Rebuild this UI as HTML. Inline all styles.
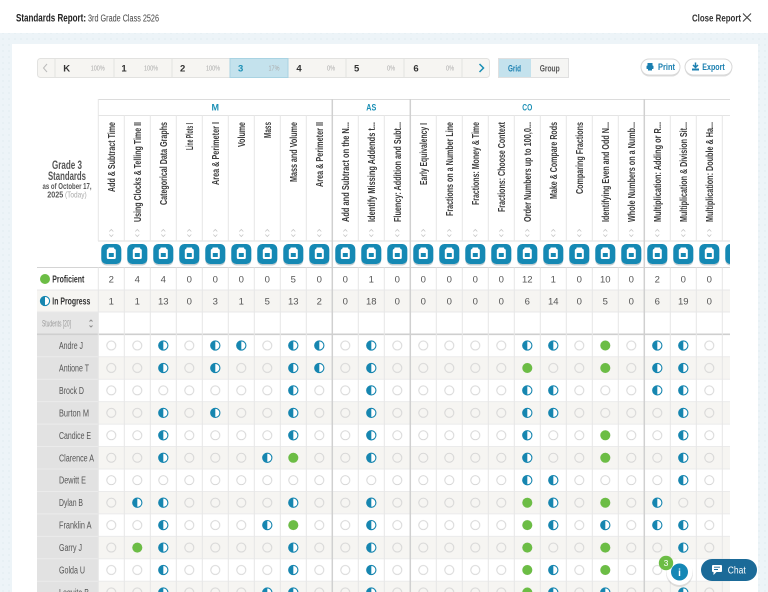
<!DOCTYPE html>
<html><head><meta charset="utf-8"><style>html,body{margin:0;padding:0;background:#fff}svg{display:block}</style></head>
<body>
<svg width="768" height="592" viewBox="0 0 768 592" xmlns="http://www.w3.org/2000/svg" font-family="'Liberation Sans', sans-serif">
<defs>
<pattern id="dots" width="6" height="6" patternUnits="userSpaceOnUse"><rect width="6" height="6" fill="#edf4f8"/><circle cx="3" cy="3" r="0.6" fill="#d9e6ed"/></pattern>
<pattern id="pc" x="98.3" y="334.3" width="26" height="22.45" patternUnits="userSpaceOnUse"><circle cx="13" cy="11.2" r="4.5" fill="none" stroke="#d2d2d2" stroke-width="0.9"/></pattern>
<g id="h"><circle r="4.6" fill="#fff" stroke="#1686b0" stroke-width="1.1"/><path d="M0,-4.6A4.6,4.6 0 0 0 0,4.6Z" fill="#1686b0"/></g>
<g id="g"><circle r="5" fill="#6cbd45"/></g>
<g id="sa"><path d="M-2,2.5L0,0.5L2,2.5M-2,5.5L0,7.5L2,5.5" fill="none" stroke="#c6c6c6" stroke-width="0.8"/></g>
<g id="ic"><rect x="-10" y="-8.5" width="20" height="20" rx="5" fill="#c5d0d4"/><rect x="-10" y="-10" width="20" height="20" rx="5" fill="#1589b4"/><rect x="-4.5" y="-5" width="9" height="10" rx="1.5" fill="#fff"/><rect x="-2.5" y="-1" width="5" height="4" fill="#1589b4"/><rect x="-3" y="-6.5" width="6" height="2" rx="0.8" fill="#fff"/></g>
<clipPath id="tc"><rect x="0" y="0" width="730" height="592"/></clipPath>
</defs>

<!-- page background -->
<rect width="768" height="592" fill="#fff"/>
<rect x="0" y="33" width="768" height="559" fill="url(#dots)"/>
<rect x="12" y="44" width="746" height="548" fill="#fff"/>

<!-- top bar -->
<text x="16" y="21.5" font-size="11" font-weight="bold" fill="#222" textLength="70" lengthAdjust="spacingAndGlyphs">Standards Report:</text>
<text x="88" y="21.5" font-size="10" fill="#444" textLength="71" lengthAdjust="spacingAndGlyphs">3rd Grade Class 2526</text>
<text x="692" y="21.5" font-size="10.5" font-weight="bold" fill="#333" textLength="49" lengthAdjust="spacingAndGlyphs">Close Report</text>
<path d="M743,13.5L751,21.5M751,13.5L743,21.5" stroke="#444" stroke-width="1.1"/>

<!-- grade tabs -->
<rect x="37.5" y="58.5" width="452" height="19" rx="3" fill="#f6f5f2" stroke="#e2e2e0"/>
<rect x="230" y="58.5" width="58" height="19" fill="#c4e2ed" stroke="#a9d3e2"/>
<g stroke="#e2e2e0"><line x1="55" y1="59" x2="55" y2="77"/><line x1="114" y1="59" x2="114" y2="77"/><line x1="172" y1="59" x2="172" y2="77"/><line x1="346" y1="59" x2="346" y2="77"/><line x1="404" y1="59" x2="404" y2="77"/><line x1="462" y1="59" x2="462" y2="77"/></g>
<path d="M47,64L43.5,68L47,72" fill="none" stroke="#bbb" stroke-width="1"/>
<path d="M479.5,64L483.5,68L479.5,72" fill="none" stroke="#1a8fb5" stroke-width="1.5"/>
<g font-size="9.5" font-weight="bold" fill="#333" text-anchor="middle">
<text x="66.7" y="71.5">K</text><text x="124" y="71.5">1</text><text x="182.7" y="71.5">2</text><text x="240.7" y="71.5" fill="#1a8fb5">3</text><text x="299" y="71.5">4</text><text x="356.7" y="71.5">5</text><text x="416" y="71.5">6</text>
</g>
<g font-size="7" fill="#aaa" text-anchor="middle">
<text x="97.7" y="70.5" textLength="14" lengthAdjust="spacingAndGlyphs">100%</text>
<text x="151" y="70.5" textLength="14" lengthAdjust="spacingAndGlyphs">100%</text>
<text x="213" y="70.5" textLength="14" lengthAdjust="spacingAndGlyphs">100%</text>
<text x="274" y="70.5" textLength="11" lengthAdjust="spacingAndGlyphs">17%</text>
<text x="331" y="70.5" textLength="8" lengthAdjust="spacingAndGlyphs">0%</text>
<text x="391" y="70.5" textLength="8" lengthAdjust="spacingAndGlyphs">0%</text>
<text x="450" y="70.5" textLength="8" lengthAdjust="spacingAndGlyphs">0%</text>
</g>

<!-- grid/group toggle -->
<rect x="498.5" y="58.5" width="70" height="19" fill="#f5f5f3" stroke="#e0e0e0"/>
<rect x="499" y="59" width="32" height="18" fill="#c4e2ed"/>
<text x="514.5" y="71.5" font-size="9.5" font-weight="bold" fill="#1a7fb0" text-anchor="middle" textLength="13" lengthAdjust="spacingAndGlyphs">Grid</text>
<text x="549.7" y="71.5" font-size="9.5" font-weight="bold" fill="#555" text-anchor="middle" textLength="20" lengthAdjust="spacingAndGlyphs">Group</text>

<!-- print / export -->
<rect x="641" y="60.5" width="39" height="16" rx="8" fill="#ddd"/>
<rect x="641" y="59" width="39" height="16" rx="8" fill="#fff" stroke="#d8d8d8"/>
<rect x="647.5" y="63" width="5" height="2.5" fill="#1a7fb0"/><rect x="646.5" y="65.5" width="7" height="3.5" rx="0.8" fill="#1a7fb0"/><rect x="648" y="68.5" width="4" height="2" fill="#1a7fb0"/>
<text x="658" y="70" font-size="9" font-weight="bold" fill="#1a7fb0" textLength="17" lengthAdjust="spacingAndGlyphs">Print</text>
<rect x="685" y="60.5" width="47" height="16" rx="8" fill="#ddd"/>
<rect x="685" y="59" width="47" height="16" rx="8" fill="#fff" stroke="#d8d8d8"/>
<path d="M695.5,62.5V67M693,65L695.5,67.5L698,65" fill="none" stroke="#1a7fb0" stroke-width="1.5"/><rect x="692" y="68.5" width="7" height="2" fill="#1a7fb0"/>
<text x="702.3" y="70" font-size="9" font-weight="bold" fill="#1a7fb0" textLength="22.4" lengthAdjust="spacingAndGlyphs">Export</text>

<!-- left header block -->
<g font-weight="bold" fill="#555" text-anchor="middle">
<text x="67" y="169" font-size="11.5" textLength="30" lengthAdjust="spacingAndGlyphs">Grade 3</text>
<text x="67" y="180" font-size="11.5" textLength="38" lengthAdjust="spacingAndGlyphs">Standards</text>
<text x="67" y="189" font-size="8.5" textLength="49" lengthAdjust="spacingAndGlyphs">as of October 17,</text>
</g>
<text x="47.3" y="197.5" font-size="8.5" font-weight="bold" fill="#555" textLength="16" lengthAdjust="spacingAndGlyphs">2025</text>
<text x="65" y="197.5" font-size="8.5" fill="#aaa" textLength="21.7" lengthAdjust="spacingAndGlyphs">(Today)</text>

<g clip-path="url(#tc)">
<!-- row fills -->
<rect x="37" y="290" width="693" height="22" fill="#f6f5f2"/>
<rect x="37" y="312" width="61" height="22.3" fill="#e6e6e6"/>
<g fill="#f6f5f2">
<rect x="98" y="356.75" width="632" height="22.45"/><rect x="98" y="401.65" width="632" height="22.45"/><rect x="98" y="446.55" width="632" height="22.45"/><rect x="98" y="491.45" width="632" height="22.45"/><rect x="98" y="536.35" width="632" height="22.45"/><rect x="98" y="581.25" width="632" height="22.45"/>
</g>
<rect x="37" y="334.3" width="61" height="258" fill="#e2e2e2"/>

<!-- horizontal lines -->
<g stroke="#dcdcdc" stroke-width="1">
<line x1="98" y1="99.5" x2="730" y2="99.5"/>
<line x1="98" y1="115.5" x2="730" y2="115.5" stroke="#e4e4e4"/>
<line x1="98" y1="241" x2="730" y2="241"/>
<line x1="37" y1="267.5" x2="730" y2="267.5" stroke="#d4d4d4"/>
<line x1="37" y1="290" x2="730" y2="290" stroke="#e8e8e8"/>
<line x1="37" y1="312" x2="730" y2="312" stroke="#e8e8e8"/>
<line x1="37" y1="334.3" x2="730" y2="334.3" stroke="#cfcfcf" stroke-width="1.6"/>
</g>
<g stroke="#ebebeb">
<line x1="37" y1="356.75" x2="730" y2="356.75"/><line x1="37" y1="379.2" x2="730" y2="379.2"/><line x1="37" y1="401.65" x2="730" y2="401.65"/><line x1="37" y1="424.1" x2="730" y2="424.1"/><line x1="37" y1="446.55" x2="730" y2="446.55"/><line x1="37" y1="469" x2="730" y2="469"/><line x1="37" y1="491.45" x2="730" y2="491.45"/><line x1="37" y1="513.9" x2="730" y2="513.9"/><line x1="37" y1="536.35" x2="730" y2="536.35"/><line x1="37" y1="558.8" x2="730" y2="558.8"/><line x1="37" y1="581.25" x2="730" y2="581.25"/>
</g>

<!-- vertical lines -->
<g stroke="#e6e6e6">
<line x1="98.3" y1="99" x2="98.3" y2="241"/><line x1="98.3" y1="267.5" x2="98.3" y2="592"/>
<line x1="124.3" y1="115" x2="124.3" y2="241"/><line x1="150.3" y1="115" x2="150.3" y2="241"/><line x1="176.3" y1="115" x2="176.3" y2="241"/><line x1="202.3" y1="115" x2="202.3" y2="241"/><line x1="228.3" y1="115" x2="228.3" y2="241"/><line x1="254.3" y1="115" x2="254.3" y2="241"/><line x1="280.3" y1="115" x2="280.3" y2="241"/><line x1="306.3" y1="115" x2="306.3" y2="241"/>
<line x1="358.3" y1="115" x2="358.3" y2="241"/><line x1="384.3" y1="115" x2="384.3" y2="241"/>
<line x1="436.3" y1="115" x2="436.3" y2="241"/><line x1="462.3" y1="115" x2="462.3" y2="241"/><line x1="488.3" y1="115" x2="488.3" y2="241"/><line x1="514.3" y1="115" x2="514.3" y2="241"/><line x1="540.3" y1="115" x2="540.3" y2="241"/><line x1="566.3" y1="115" x2="566.3" y2="241"/><line x1="592.3" y1="115" x2="592.3" y2="241"/><line x1="618.3" y1="115" x2="618.3" y2="241"/>
<line x1="670.3" y1="115" x2="670.3" y2="241"/><line x1="696.3" y1="115" x2="696.3" y2="241"/><line x1="722.3" y1="115" x2="722.3" y2="241"/>
<line x1="124.3" y1="267.5" x2="124.3" y2="592"/><line x1="150.3" y1="267.5" x2="150.3" y2="592"/><line x1="176.3" y1="267.5" x2="176.3" y2="592"/><line x1="202.3" y1="267.5" x2="202.3" y2="592"/><line x1="228.3" y1="267.5" x2="228.3" y2="592"/><line x1="254.3" y1="267.5" x2="254.3" y2="592"/><line x1="280.3" y1="267.5" x2="280.3" y2="592"/><line x1="306.3" y1="267.5" x2="306.3" y2="592"/>
<line x1="358.3" y1="267.5" x2="358.3" y2="592"/><line x1="384.3" y1="267.5" x2="384.3" y2="592"/>
<line x1="436.3" y1="267.5" x2="436.3" y2="592"/><line x1="462.3" y1="267.5" x2="462.3" y2="592"/><line x1="488.3" y1="267.5" x2="488.3" y2="592"/><line x1="514.3" y1="267.5" x2="514.3" y2="592"/><line x1="540.3" y1="267.5" x2="540.3" y2="592"/><line x1="566.3" y1="267.5" x2="566.3" y2="592"/><line x1="592.3" y1="267.5" x2="592.3" y2="592"/><line x1="618.3" y1="267.5" x2="618.3" y2="592"/>
<line x1="670.3" y1="267.5" x2="670.3" y2="592"/><line x1="696.3" y1="267.5" x2="696.3" y2="592"/><line x1="722.3" y1="267.5" x2="722.3" y2="592"/>
</g>
<g stroke="#d0d0d0" stroke-width="1.5">
<line x1="332.3" y1="99" x2="332.3" y2="592"/><line x1="410.3" y1="99" x2="410.3" y2="592"/><line x1="644.3" y1="99" x2="644.3" y2="592"/>
</g>

<!-- group labels -->
<g font-size="9" font-weight="bold" fill="#1a8fb5" text-anchor="middle">
<text x="215.3" y="110.5">M</text><text x="371.3" y="110.5" textLength="10" lengthAdjust="spacingAndGlyphs">AS</text><text x="527.3" y="110.5" textLength="10" lengthAdjust="spacingAndGlyphs">CO</text>
</g>

<!-- column headers -->
<g font-size="10" font-weight="bold" fill="#3a3a3a" text-anchor="end" lengthAdjust="spacingAndGlyphs">
<text transform="translate(114.8,122) rotate(-90)" textLength="70" lengthAdjust="spacingAndGlyphs">Add &amp; Subtract Time</text>
<text transform="translate(140.8,122) rotate(-90)" textLength="100" lengthAdjust="spacingAndGlyphs">Using Clocks &amp; Telling Time II</text>
<text transform="translate(166.8,122) rotate(-90)" textLength="83" lengthAdjust="spacingAndGlyphs">Categorical Data Graphs</text>
<text transform="translate(192.8,123) rotate(-90)" textLength="27" lengthAdjust="spacingAndGlyphs">Line Plots I</text>
<text transform="translate(218.8,122) rotate(-90)" textLength="63" lengthAdjust="spacingAndGlyphs">Area &amp; Perimeter I</text>
<text transform="translate(244.8,122) rotate(-90)" textLength="25" lengthAdjust="spacingAndGlyphs">Volume</text>
<text transform="translate(270.8,122) rotate(-90)" textLength="16" lengthAdjust="spacingAndGlyphs">Mass</text>
<text transform="translate(296.8,122) rotate(-90)" textLength="60" lengthAdjust="spacingAndGlyphs">Mass and Volume</text>
<text transform="translate(322.8,122) rotate(-90)" textLength="65" lengthAdjust="spacingAndGlyphs">Area &amp; Perimeter II</text>
<text transform="translate(348.8,122) rotate(-90)" textLength="100" lengthAdjust="spacingAndGlyphs">Add and Subtract on the N...</text>
<text transform="translate(374.8,122) rotate(-90)" textLength="100" lengthAdjust="spacingAndGlyphs">Identify Missing Addends t...</text>
<text transform="translate(400.8,122) rotate(-90)" textLength="100" lengthAdjust="spacingAndGlyphs">Fluency: Addition and Subt...</text>
<text transform="translate(426.8,123) rotate(-90)" textLength="62" lengthAdjust="spacingAndGlyphs">Early Equivalency I</text>
<text transform="translate(452.8,122) rotate(-90)" textLength="94" lengthAdjust="spacingAndGlyphs">Fractions on a Number Line</text>
<text transform="translate(478.8,122) rotate(-90)" textLength="83" lengthAdjust="spacingAndGlyphs">Fractions: Money &amp; Time</text>
<text transform="translate(504.8,122) rotate(-90)" textLength="90" lengthAdjust="spacingAndGlyphs">Fractions: Choose Context</text>
<text transform="translate(530.8,122) rotate(-90)" textLength="100" lengthAdjust="spacingAndGlyphs">Order Numbers up to 100,0...</text>
<text transform="translate(556.8,122) rotate(-90)" textLength="77" lengthAdjust="spacingAndGlyphs">Make &amp; Compare Rods</text>
<text transform="translate(582.8,122) rotate(-90)" textLength="72" lengthAdjust="spacingAndGlyphs">Comparing Fractions</text>
<text transform="translate(608.8,122) rotate(-90)" textLength="100" lengthAdjust="spacingAndGlyphs">Identifying Even and Odd N...</text>
<text transform="translate(634.8,122) rotate(-90)" textLength="100" lengthAdjust="spacingAndGlyphs">Whole Numbers on a Numb...</text>
<text transform="translate(660.8,122) rotate(-90)" textLength="100" lengthAdjust="spacingAndGlyphs">Multiplication: Adding or R...</text>
<text transform="translate(686.8,122) rotate(-90)" textLength="100" lengthAdjust="spacingAndGlyphs">Multiplication &amp; Division Sit...</text>
<text transform="translate(712.8,122) rotate(-90)" textLength="100" lengthAdjust="spacingAndGlyphs">Multiplication: Double &amp; Ha...</text>
</g>

<!-- sort arrows -->
<g transform="translate(0,229)">
<use href="#sa" x="111.3"/><use href="#sa" x="137.3"/><use href="#sa" x="163.3"/><use href="#sa" x="189.3"/><use href="#sa" x="215.3"/><use href="#sa" x="241.3"/><use href="#sa" x="267.3"/><use href="#sa" x="293.3"/><use href="#sa" x="319.3"/><use href="#sa" x="345.3"/><use href="#sa" x="371.3"/><use href="#sa" x="397.3"/><use href="#sa" x="423.3"/><use href="#sa" x="449.3"/><use href="#sa" x="475.3"/><use href="#sa" x="501.3"/><use href="#sa" x="527.3"/><use href="#sa" x="553.3"/><use href="#sa" x="579.3"/><use href="#sa" x="605.3"/><use href="#sa" x="631.3"/><use href="#sa" x="657.3"/><use href="#sa" x="683.3"/><use href="#sa" x="709.3"/>
</g>

<!-- icons -->
<g transform="translate(0,254)">
<use href="#ic" x="111.3"/><use href="#ic" x="137.3"/><use href="#ic" x="163.3"/><use href="#ic" x="189.3"/><use href="#ic" x="215.3"/><use href="#ic" x="241.3"/><use href="#ic" x="267.3"/><use href="#ic" x="293.3"/><use href="#ic" x="319.3"/><use href="#ic" x="345.3"/><use href="#ic" x="371.3"/><use href="#ic" x="397.3"/><use href="#ic" x="423.3"/><use href="#ic" x="449.3"/><use href="#ic" x="475.3"/><use href="#ic" x="501.3"/><use href="#ic" x="527.3"/><use href="#ic" x="553.3"/><use href="#ic" x="579.3"/><use href="#ic" x="605.3"/><use href="#ic" x="631.3"/><use href="#ic" x="657.3"/><use href="#ic" x="683.3"/><use href="#ic" x="709.3"/><use href="#ic" x="735.3"/>
</g>

<!-- counts -->
<g font-size="9.5" fill="#555" text-anchor="middle">
<text x="111.3" y="282.5">2</text><text x="137.3" y="282.5">4</text><text x="163.3" y="282.5">4</text><text x="189.3" y="282.5">0</text><text x="215.3" y="282.5">0</text><text x="241.3" y="282.5">0</text><text x="267.3" y="282.5">0</text><text x="293.3" y="282.5">5</text><text x="319.3" y="282.5">0</text><text x="345.3" y="282.5">0</text><text x="371.3" y="282.5">1</text><text x="397.3" y="282.5">0</text><text x="423.3" y="282.5">0</text><text x="449.3" y="282.5">0</text><text x="475.3" y="282.5">0</text><text x="501.3" y="282.5">0</text><text x="527.3" y="282.5">12</text><text x="553.3" y="282.5">1</text><text x="579.3" y="282.5">0</text><text x="605.3" y="282.5">10</text><text x="631.3" y="282.5">0</text><text x="657.3" y="282.5">2</text><text x="683.3" y="282.5">0</text><text x="709.3" y="282.5">0</text>
<text x="111.3" y="304.5">1</text><text x="137.3" y="304.5">1</text><text x="163.3" y="304.5">13</text><text x="189.3" y="304.5">0</text><text x="215.3" y="304.5">3</text><text x="241.3" y="304.5">1</text><text x="267.3" y="304.5">5</text><text x="293.3" y="304.5">13</text><text x="319.3" y="304.5">2</text><text x="345.3" y="304.5">0</text><text x="371.3" y="304.5">18</text><text x="397.3" y="304.5">0</text><text x="423.3" y="304.5">0</text><text x="449.3" y="304.5">0</text><text x="475.3" y="304.5">0</text><text x="501.3" y="304.5">0</text><text x="527.3" y="304.5">6</text><text x="553.3" y="304.5">14</text><text x="579.3" y="304.5">0</text><text x="605.3" y="304.5">5</text><text x="631.3" y="304.5">0</text><text x="657.3" y="304.5">6</text><text x="683.3" y="304.5">19</text><text x="709.3" y="304.5">0</text>
</g>

<!-- legend labels -->
<circle cx="45" cy="279" r="5" fill="#6cbd45"/>
<text x="52.3" y="282.5" font-size="10" font-weight="bold" fill="#333" textLength="32" lengthAdjust="spacingAndGlyphs">Proficient</text>
<use href="#h" x="45" y="301"/>
<text x="52.3" y="304.5" font-size="10" font-weight="bold" fill="#333" textLength="38" lengthAdjust="spacingAndGlyphs">In Progress</text>
<text x="42" y="326.5" font-size="9.5" fill="#999" textLength="29" lengthAdjust="spacingAndGlyphs">Students [20]</text>
<path d="M89.5,321.5L91,320L92.5,321.5M89.5,325.5L91,327L92.5,325.5" fill="none" stroke="#888" stroke-width="0.9"/>

<!-- empty circles -->
<rect x="98.3" y="334.3" width="632" height="258" fill="url(#pc)"/>

<!-- student names -->
<g font-size="10" fill="#555" lengthAdjust="spacingAndGlyphs">
<text x="59" y="349" textLength="24" lengthAdjust="spacingAndGlyphs">Andre J</text>
<text x="59" y="371.5" textLength="30" lengthAdjust="spacingAndGlyphs">Antione T</text>
<text x="59" y="394" textLength="25" lengthAdjust="spacingAndGlyphs">Brock D</text>
<text x="59" y="416.4" textLength="30" lengthAdjust="spacingAndGlyphs">Burton M</text>
<text x="59" y="438.8" textLength="32" lengthAdjust="spacingAndGlyphs">Candice E</text>
<text x="59" y="461.3" textLength="35" lengthAdjust="spacingAndGlyphs">Clarence A</text>
<text x="59" y="483.7" textLength="27" lengthAdjust="spacingAndGlyphs">Dewitt E</text>
<text x="59" y="506.2" textLength="24" lengthAdjust="spacingAndGlyphs">Dylan B</text>
<text x="59" y="528.6" textLength="32.5" lengthAdjust="spacingAndGlyphs">Franklin A</text>
<text x="59" y="551.1" textLength="23" lengthAdjust="spacingAndGlyphs">Garry J</text>
<text x="59" y="573.5" textLength="26" lengthAdjust="spacingAndGlyphs">Golda U</text>
<text x="59" y="596" textLength="30" lengthAdjust="spacingAndGlyphs">Lequita B</text>
</g>

<!-- student marks -->
<g transform="translate(0,345.5)"><use href="#h" x="163.3"/><use href="#h" x="215.3"/><use href="#h" x="241.3"/><use href="#h" x="293.3"/><use href="#h" x="319.3"/><use href="#h" x="371.3"/><use href="#h" x="527.3"/><use href="#h" x="553.3"/><use href="#g" x="605.3"/><use href="#h" x="657.3"/><use href="#h" x="683.3"/></g>
<g transform="translate(0,368)"><use href="#h" x="163.3"/><use href="#h" x="215.3"/><use href="#h" x="293.3"/><use href="#h" x="319.3"/><use href="#h" x="371.3"/><use href="#g" x="527.3"/><use href="#g" x="605.3"/><use href="#h" x="657.3"/><use href="#h" x="683.3"/></g>
<g transform="translate(0,390.4)"><use href="#h" x="293.3"/><use href="#h" x="371.3"/><use href="#h" x="527.3"/><use href="#h" x="553.3"/><use href="#h" x="657.3"/><use href="#h" x="683.3"/></g>
<g transform="translate(0,412.9)"><use href="#h" x="163.3"/><use href="#h" x="215.3"/><use href="#h" x="293.3"/><use href="#h" x="371.3"/><use href="#h" x="527.3"/><use href="#h" x="553.3"/><use href="#h" x="683.3"/></g>
<g transform="translate(0,435.3)"><use href="#h" x="163.3"/><use href="#h" x="293.3"/><use href="#h" x="371.3"/><use href="#h" x="527.3"/><use href="#g" x="605.3"/><use href="#h" x="683.3"/></g>
<g transform="translate(0,457.8)"><use href="#h" x="163.3"/><use href="#h" x="267.3"/><use href="#g" x="293.3"/><use href="#h" x="371.3"/><use href="#h" x="527.3"/><use href="#g" x="605.3"/><use href="#h" x="683.3"/></g>
<g transform="translate(0,480.2)"><use href="#h" x="527.3"/><use href="#h" x="553.3"/><use href="#h" x="683.3"/></g>
<g transform="translate(0,502.7)"><use href="#h" x="137.3"/><use href="#h" x="163.3"/><use href="#h" x="293.3"/><use href="#h" x="371.3"/><use href="#g" x="527.3"/><use href="#h" x="553.3"/><use href="#g" x="605.3"/><use href="#h" x="657.3"/></g>
<g transform="translate(0,525.1)"><use href="#h" x="163.3"/><use href="#h" x="267.3"/><use href="#g" x="293.3"/><use href="#h" x="371.3"/><use href="#g" x="527.3"/><use href="#h" x="553.3"/><use href="#h" x="605.3"/><use href="#h" x="657.3"/><use href="#h" x="683.3"/></g>
<g transform="translate(0,547.6)"><use href="#g" x="137.3"/><use href="#h" x="163.3"/><use href="#h" x="293.3"/><use href="#h" x="371.3"/><use href="#g" x="527.3"/><use href="#g" x="605.3"/><use href="#h" x="683.3"/></g>
<g transform="translate(0,570)"><use href="#h" x="163.3"/><use href="#h" x="293.3"/><use href="#h" x="371.3"/><use href="#g" x="527.3"/><use href="#h" x="553.3"/><use href="#g" x="605.3"/><use href="#h" x="683.3"/></g>
<g transform="translate(0,592.5)"><use href="#h" x="163.3"/><use href="#h" x="267.3"/><use href="#h" x="293.3"/><use href="#h" x="371.3"/><use href="#g" x="527.3"/><use href="#h" x="553.3"/><use href="#h" x="605.3"/><use href="#h" x="683.3"/></g>
</g>

<!-- info button -->
<circle cx="679.5" cy="573.5" r="13.5" fill="#000" fill-opacity="0.1"/>
<circle cx="679.5" cy="572" r="13" fill="#fff"/>
<circle cx="679.5" cy="572" r="8.5" fill="#1587b5"/>
<text x="679.5" y="575.8" font-size="10" font-weight="bold" fill="#fff" text-anchor="middle">i</text>
<circle cx="666" cy="563" r="7.2" fill="#6cbd45"/>
<text x="666" y="566" font-size="8.5" fill="#fff" text-anchor="middle">3</text>

<!-- chat button -->
<rect x="701" y="559" width="56" height="22" rx="11" fill="#1b6a98"/>
<rect x="712" y="565" width="10" height="7" rx="1" fill="#fff"/>
<path d="M713.5,571.5L713.5,575L717,571.5Z" fill="#fff"/>
<path d="M714,567.2H720M714,569.5H718" stroke="#1b6a98" stroke-width="0.9"/>
<text x="727.7" y="573.5" font-size="10.5" fill="#fff" textLength="18" lengthAdjust="spacingAndGlyphs">Chat</text>
</svg>
</body></html>
